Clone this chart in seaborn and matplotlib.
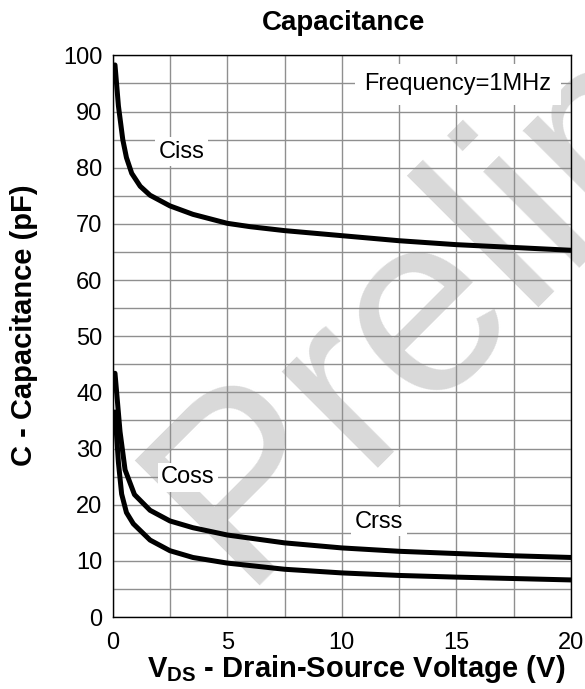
import matplotlib
matplotlib.use("Agg")
import matplotlib.pyplot as plt
import seaborn as sns
import numpy as np
import pandas as pd

# ---- data ----
vds_ciss = [0.1, 0.25, 0.44, 0.6, 0.83, 1.2, 1.63, 2.5, 3.5, 5.0, 6.0, 7.5, 10.0, 12.5, 15.0, 17.5, 20.0]
ciss = [98.3, 91.0, 85.0, 81.8, 79.0, 76.7, 75.1, 73.2, 71.7, 70.1, 69.5, 68.8, 67.9, 67.0, 66.3, 65.8, 65.3]

vds_coss = [0.1, 0.32, 0.54, 0.95, 1.63, 2.5, 3.5, 5.0, 7.5, 10.0, 12.5, 15.0, 17.5, 20.0]
coss = [43.4, 33.0, 26.2, 21.8, 19.0, 17.1, 15.9, 14.6, 13.2, 12.3, 11.7, 11.3, 10.9, 10.6]

vds_crss = [0.1, 0.25, 0.39, 0.6, 0.9, 1.63, 2.5, 3.5, 5.0, 7.5, 10.0, 12.5, 15.0, 17.5, 20.0]
crss = [36.5, 27.5, 21.9, 18.6, 16.6, 13.7, 11.8, 10.6, 9.6, 8.5, 7.85, 7.4, 7.1, 6.85, 6.6]

x_ticks = [0, 5, 10, 15, 20]
y_ticks = [0, 10, 20, 30, 40, 50, 60, 70, 80, 90, 100]

title = "Capacitance"
xlabel = r"$\mathbf{V_{DS}}$ - Drain-Source Voltage (V)"
ylabel = "C - Capacitance (pF)"
note = "Frequency=1MHz"
watermark = "Preliminary"

# ---- style ----
sns.set_style("white")
plt.rcParams["font.family"] = ["Liberation Sans", "DejaVu Sans"]
plt.rcParams["mathtext.fontset"] = "custom"
plt.rcParams["mathtext.rm"] = "Liberation Sans"
plt.rcParams["mathtext.bf"] = "Liberation Sans:bold"
plt.rcParams["text.color"] = "black"
plt.rcParams["xtick.color"] = "black"
plt.rcParams["ytick.color"] = "black"

W, H = 585, 689
fig = plt.figure(figsize=(W / 100, H / 100), dpi=100)
fig.patch.set_facecolor("white")

left, right, top, bottom = 112.7, 571.0, 55.4, 617.0
ax = fig.add_axes([left / W, 1 - bottom / H, (right - left) / W, (bottom - top) / H])
ax.patch.set_visible(False)

frames = [
    pd.DataFrame({"V": vds_ciss, "C": ciss, "curve": "Ciss"}),
    pd.DataFrame({"V": vds_coss, "C": coss, "curve": "Coss"}),
    pd.DataFrame({"V": vds_crss, "C": crss, "curve": "Crss"}),
]
df = pd.concat(frames, ignore_index=True)

for name in ["Ciss", "Coss", "Crss"]:
    sub = df[df["curve"] == name]
    sns.lineplot(data=sub, x="V", y="C", ax=ax, color="black", linewidth=3.6,
                 estimator=None, sort=False, zorder=3)

ax.set_xlim(0, 20)
ax.set_ylim(0, 100)
ax.set_xticks(x_ticks)
ax.set_xticks([2.5, 7.5, 12.5, 17.5], minor=True)
ax.set_yticks(y_ticks)
ax.set_yticks(np.arange(5, 100, 10), minor=True)
ax.set_xticklabels([str(t) for t in x_ticks], fontsize=17, color="black")
ax.set_yticklabels([str(t) for t in y_ticks], fontsize=17, color="black")
ax.tick_params(axis="x", which="both", length=0, pad=10.5)
ax.tick_params(axis="y", which="both", length=0, pad=7.5)
ax.set_axisbelow(True)
ax.grid(True, which="both", color="#8f8f8f", linewidth=1.0)
for s in ax.spines.values():
    s.set_visible(True)
    s.set_color("black")
    s.set_linewidth(1.0)
ax.set_xlabel("")
ax.set_ylabel("")

# watermark (behind grid and curves)
ax.text(239.1 / W, 1 - 585.9 / H, watermark, transform=fig.transFigure,
        fontsize=184, color="#d9d9d9", rotation=45, rotation_mode="anchor",
        ha="left", va="baseline", clip_on=False, zorder=0.1)

# curve labels with white boxes
box = dict(boxstyle="square,pad=0.15", facecolor="white", edgecolor="none")
ax.text(2.99, 81.75, "Ciss", fontsize=17, ha="center", va="baseline", bbox=box, zorder=2)
ax.text(3.28, 23.8, "Coss", fontsize=17, ha="center", va="baseline", bbox=box, zorder=2)
ax.text(11.62, 15.9, "Crss", fontsize=17, ha="center", va="baseline", bbox=box, zorder=2)
ax.text(15.07, 93.8, note, fontsize=17, ha="center", va="baseline",
        bbox=dict(boxstyle="square,pad=0.4", facecolor="white", edgecolor="none"), zorder=2)

# title and axis labels
fig.text(344 / W, 1 - 30 / H, title, fontsize=20, fontweight="bold",
         ha="center", va="baseline", color="black")
fig.text(356 / W, 1 - 677 / H, xlabel, fontsize=21, fontweight="bold",
         ha="center", va="baseline", color="black")
fig.text(32.3 / W, 1 - 325.6 / H, ylabel, fontsize=21, fontweight="bold",
         rotation=90, rotation_mode="anchor", ha="center", va="baseline", color="black")

fig.savefig("out.png", dpi=100, facecolor="white")
